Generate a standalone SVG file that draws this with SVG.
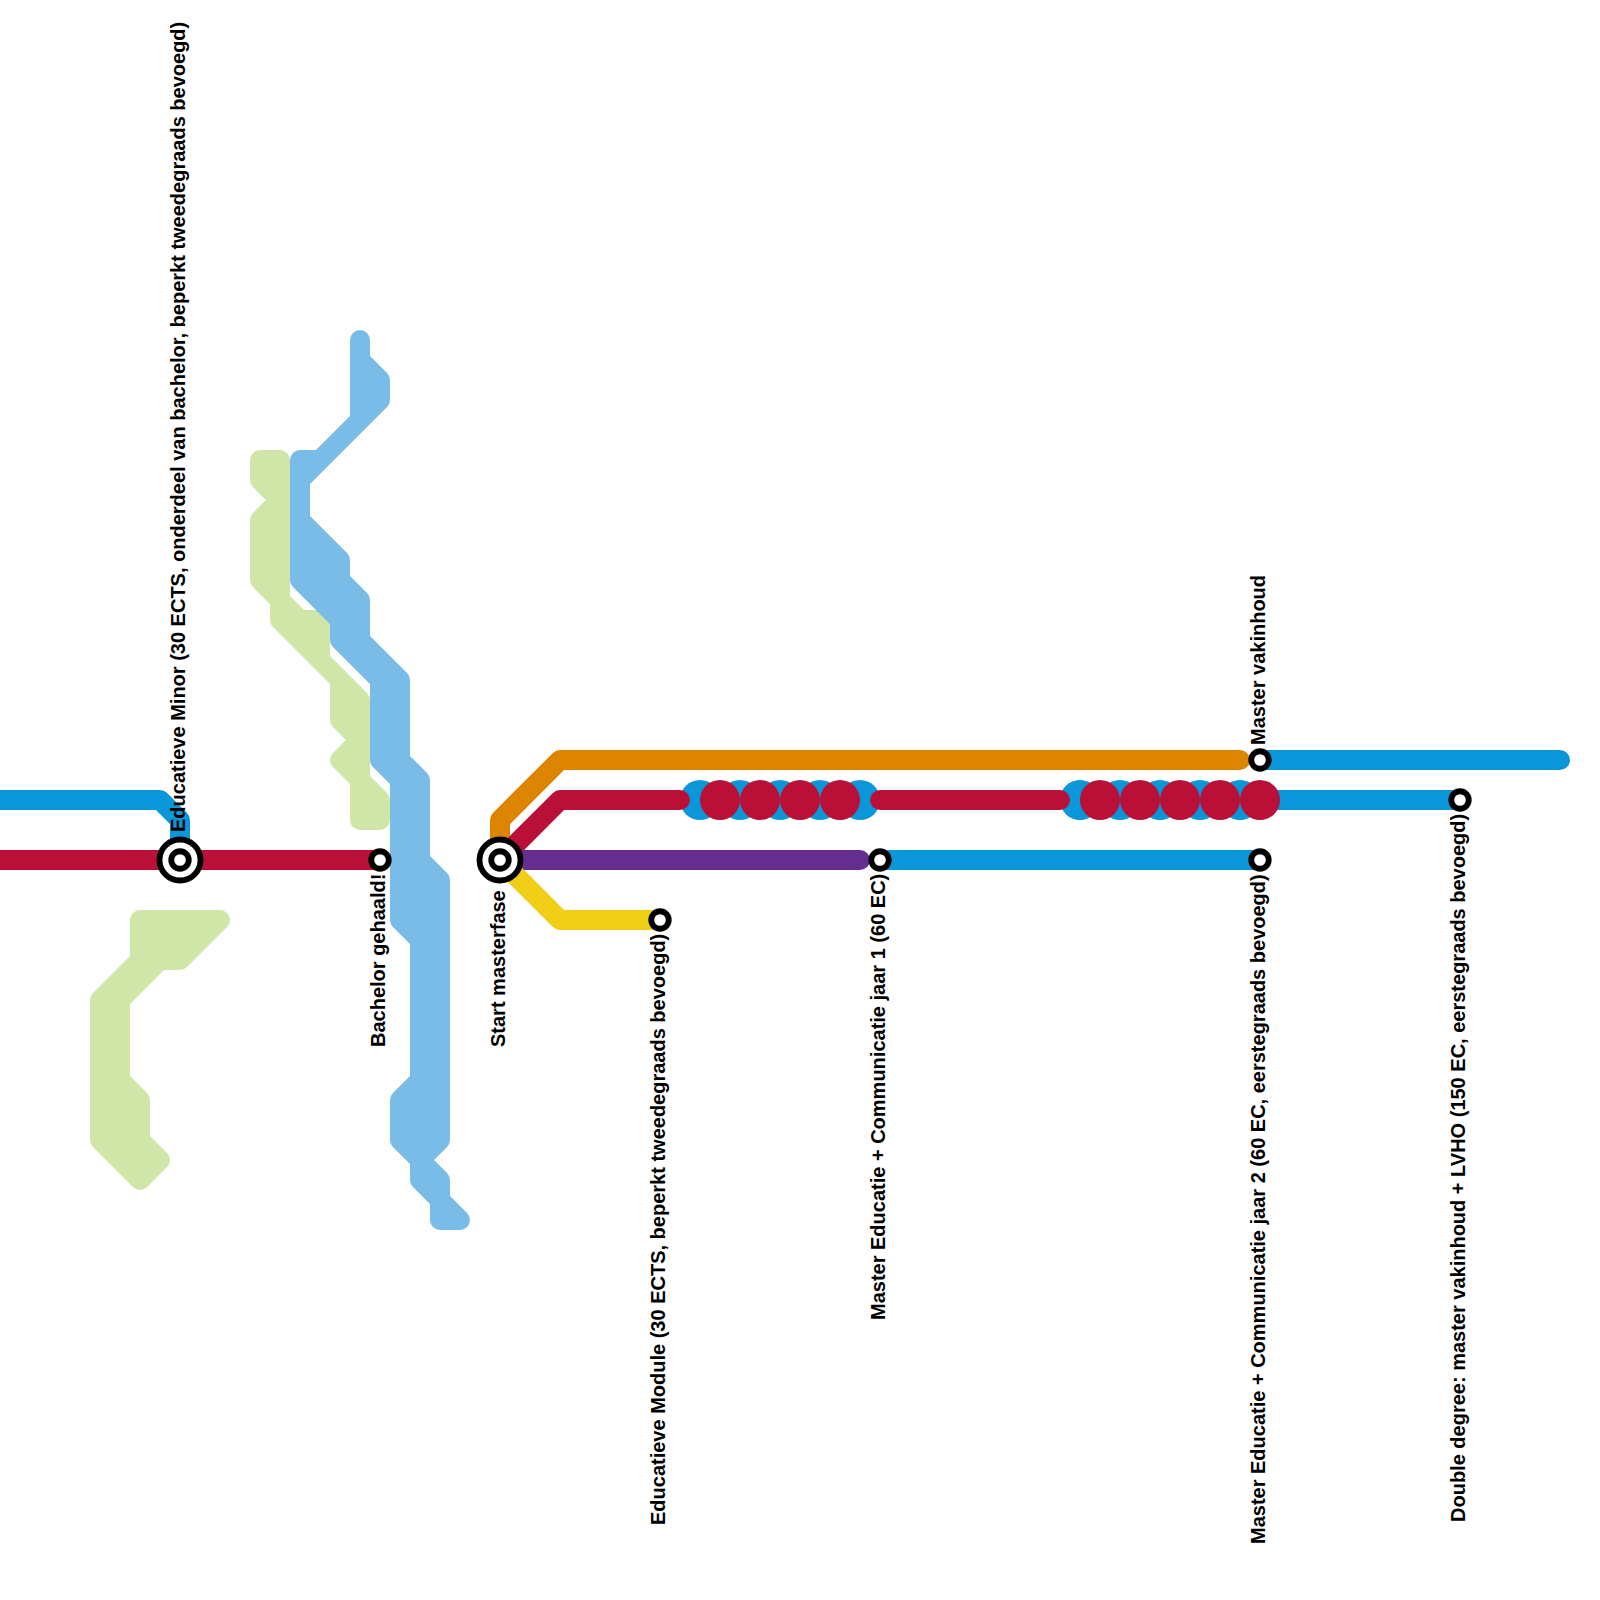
<svg xmlns="http://www.w3.org/2000/svg" width="1600" height="1600" viewBox="0 0 1600 1600">
<style>
.l{fill:none;stroke-width:20;stroke-linecap:round;stroke-linejoin:round}
.z{stroke-width:20;stroke-linejoin:round}
.db{stroke:#0a97d9}.rd{stroke:#ba1037}.or{stroke:#dd8500}.pu{stroke:#662d91}.ye{stroke:#f0ce15}
.gz{fill:#d0e6a8;stroke:#d0e6a8}.bz{fill:#7abce8;stroke:#7abce8}
.cb{fill:#0a97d9}.cr{fill:#ba1037}
.n{fill:#fff;stroke:#000;stroke-width:5.83}
text{font-family:"Liberation Sans",Arial,sans-serif;font-weight:700;font-size:20px;fill:#000}
</style>
<g id="zones">
<polygon class="z gz" points="260,460 280,460 280,600 300,620 320,620 320,660 360,700 360,780 380,800 380,820 360,820 360,780 340,760 360,740 340,720 340,680 280,620 280,600 260,580 260,520 280,500 260,480"/>
<polygon class="z gz" points="140,920 220,920 180,960 160,960 120,1000 120,1080 140,1100 140,1140 160,1160 140,1180 100,1140 100,1000 140,960"/>
<polygon class="z bz" points="360,340 360,360 380,380 380,400 300,480 300,520 340,560 340,580 360,600 360,640 400,680 400,760 420,780 420,860 440,880 440,1140 420,1160 440,1180 440,1200 460,1220 440,1220 440,1200 420,1180 420,1160 400,1140 400,1100 420,1080 420,940 400,920 400,780 380,760 380,680 340,640 340,620 300,580 300,460 320,460 360,420"/>
</g>
<g id="interchanges-blue" class="cb"><circle cx="700" cy="800" r="20"/><circle cx="740" cy="800" r="20"/><circle cx="780" cy="800" r="20"/><circle cx="820" cy="800" r="20"/><circle cx="860" cy="800" r="20"/><circle cx="1080" cy="800" r="20"/><circle cx="1120" cy="800" r="20"/><circle cx="1160" cy="800" r="20"/><circle cx="1200" cy="800" r="20"/><circle cx="1240" cy="800" r="20"/></g>
<g id="connectors">
<path class="l db" d="M-20,800H160L180,820V860"/>
<path class="l rd" d="M-20,860H380"/>
<path class="l or" d="M500,860V820L560,760H1240"/>
<path class="l db" d="M1260,760H1560"/>
<path class="l rd" d="M500,860L560,800H680"/>
<path class="l rd" d="M880,800H1060"/>
<path class="l db" d="M1240,800H1460"/>
<path class="l pu" d="M500,860H860"/>
<path class="l db" d="M880,860H1260"/>
<path class="l ye" d="M500,860L560,920H660"/>
</g>
<g id="interchanges-red" class="cr"><circle cx="720" cy="800" r="20"/><circle cx="760" cy="800" r="20"/><circle cx="800" cy="800" r="20"/><circle cx="840" cy="800" r="20"/><circle cx="1100" cy="800" r="20"/><circle cx="1140" cy="800" r="20"/><circle cx="1180" cy="800" r="20"/><circle cx="1220" cy="800" r="20"/><circle cx="1260" cy="800" r="20"/></g>
<g id="node-minor"><circle class="n" cx="180" cy="860" r="20.5"/><circle class="n" cx="180" cy="860" r="8.75"/><text transform="translate(185,832) rotate(-90)">Educatieve Minor (30 ECTS, onderdeel van bachelor, beperkt tweedegraads bevoegd)</text></g>
<g id="node-bachelor"><circle class="n" cx="380" cy="860" r="8.75"/><text transform="translate(385,1047) rotate(-90)">Bachelor gehaald!</text></g>
<g id="node-start"><circle class="n" cx="500" cy="860" r="20.5"/><circle class="n" cx="500" cy="860" r="8.75"/><text transform="translate(505,1047) rotate(-90)">Start masterfase</text></g>
<g id="node-module"><circle class="n" cx="660" cy="920" r="8.75"/><text transform="translate(665,1525) rotate(-90)">Educatieve Module (30 ECTS, beperkt tweedegraads bevoegd)</text></g>
<g id="node-jaar1"><circle class="n" cx="880" cy="860" r="8.75"/><text transform="translate(885,1320) rotate(-90)">Master Educatie + Communicatie jaar 1 (60 EC)</text></g>
<g id="node-vakinhoud"><circle class="n" cx="1260" cy="760" r="8.75"/><text transform="translate(1265,745) rotate(-90)">Master vakinhoud</text></g>
<g id="node-jaar2"><circle class="n" cx="1260" cy="860" r="8.75"/><text transform="translate(1265,1544) rotate(-90)">Master Educatie + Communicatie jaar 2 (60 EC, eerstegraads bevoegd)</text></g>
<g id="node-double"><circle class="n" cx="1460" cy="800" r="8.75"/><text transform="translate(1465,1522) rotate(-90)">Double degree: master vakinhoud + LVHO (150 EC, eerstegraads bevoegd)</text></g>
</svg>
